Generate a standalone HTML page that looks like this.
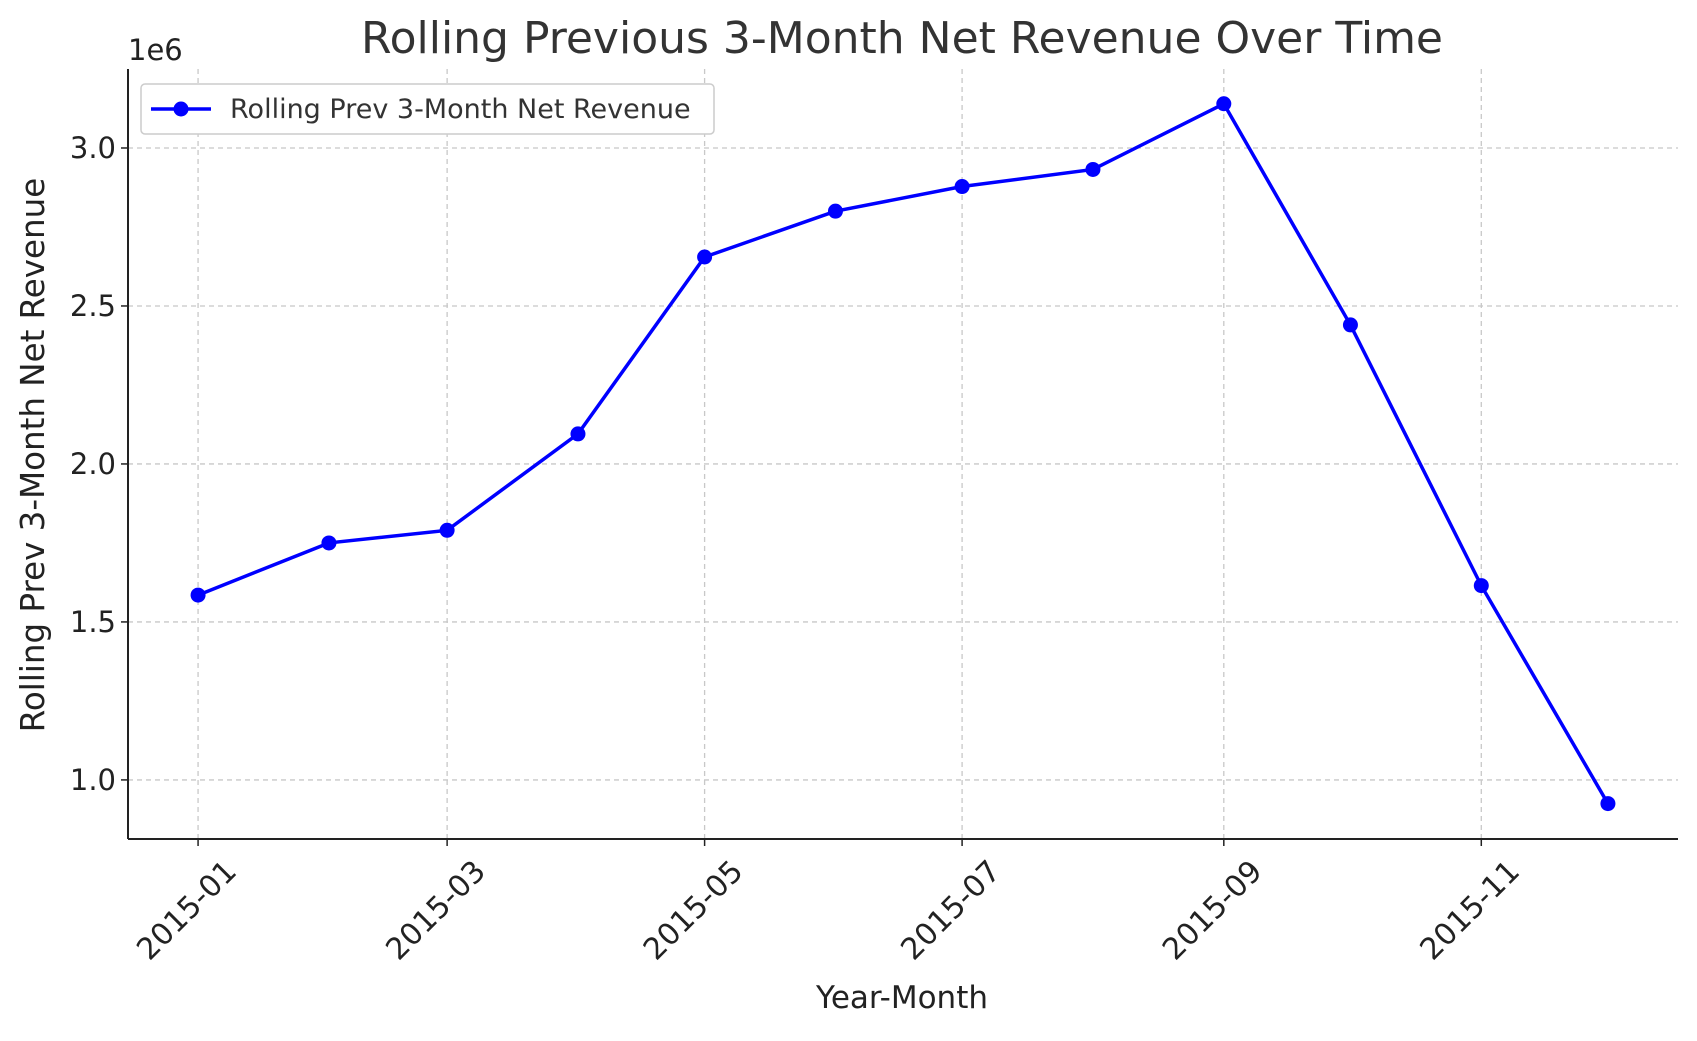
<!DOCTYPE html>
<html><head><meta charset="utf-8"><style>
body{margin:0;background:#fff}
svg text{font-family:"DejaVu Sans","Liberation Sans",sans-serif;fill:#222}
</style></head><body>
<svg width="1697" height="1036" viewBox="0 0 1697 1036" xmlns="http://www.w3.org/2000/svg" id="chart">
<text x="902" y="53" font-size="44" text-anchor="middle" style="fill:#333">Rolling Previous 3-Month Net Revenue Over Time</text>
<text x="128" y="60" font-size="29">1e6</text>
<text transform="translate(44,455) rotate(-90)" font-size="32.5" text-anchor="middle">Rolling Prev 3-Month Net Revenue</text>
<text x="902" y="1008" font-size="31" text-anchor="middle">Year-Month</text>
<g id="grid"></g><g id="ticks"></g><g id="series"></g>
<line x1="128" y1="839" x2="1678" y2="839" stroke="#222" stroke-width="2"/>
<line x1="128" y1="69" x2="128" y2="839" stroke="#222" stroke-width="2"/>
<g>
<rect x="141" y="84" width="573" height="50" rx="4" fill="#fff" stroke="#ccc" stroke-width="1.5"/>
<line x1="151" y1="109" x2="211" y2="109" stroke="#0000ff" stroke-width="3.5"/>
<circle cx="181" cy="109" r="7.5" fill="#0000ff"/>
<text x="230" y="118" font-size="27" style="fill:#333">Rolling Prev 3-Month Net Revenue</text>
</g>
</svg>
<script>
const months=["2015-01-01","2015-02-01","2015-03-01","2015-04-01","2015-05-01","2015-06-01","2015-07-01","2015-08-01","2015-09-01","2015-10-01","2015-11-01","2015-12-01"];
const values=[1.585,1.75,1.79,2.095,2.655,2.80,2.878,2.932,3.14,2.44,1.615,0.925];
const yTicks=[1.0,1.5,2.0,2.5,3.0];
const xTickLabels=["2015-01","2015-03","2015-05","2015-07","2015-09","2015-11"];
const NS="http://www.w3.org/2000/svg";
const L=128,R=1678,T=69,B=839;
const d0=Date.parse("2015-01-01");
const dayOf=s=>(Date.parse(s)-d0)/864e5;
const xMin=-16.6,xMax=350.6,yMin=0.813,yMax=3.25;
const X=s=>L+(dayOf(s)-xMin)/(xMax-xMin)*(R-L);
const Y=v=>B-(v-yMin)/(yMax-yMin)*(B-T);
function mk(t,a,p){const e=document.createElementNS(NS,t);for(const k in a)e.setAttribute(k,a[k]);p.appendChild(e);return e;}
const grid=document.getElementById('grid'),ticks=document.getElementById('ticks'),ser=document.getElementById('series');
yTicks.forEach(v=>{const y=Y(v);
const g=mk('line',{x1:L,x2:R,y1:y,y2:y,stroke:'#c8c8c8','stroke-dasharray':'5,4','stroke-width':1.3},grid);


mk('line',{x1:L-7,x2:L,y1:y,y2:y,stroke:'#222','stroke-width':1.5},ticks);
const t=mk('text',{x:L-12,y:y+10,'font-size':29,'text-anchor':'end'},ticks);t.textContent=v.toFixed(1);

});
xTickLabels.forEach(s=>{const x=X(s+"-01");
const g=mk('line',{x1:x,x2:x,y1:T,y2:B,stroke:'#c8c8c8','stroke-dasharray':'5,4','stroke-width':1.3},grid);


mk('line',{x1:x,x2:x,y1:B,y2:B+7,stroke:'#222','stroke-width':1.5},ticks);
const t=mk('text',{transform:`translate(${x+40},${B+34}) rotate(-45)`,'font-size':30,'text-anchor':'end'},ticks);t.textContent=s;

});
const pts=months.map((m,i)=>[X(m),Y(values[i])]);
const pl=mk('polyline',{points:pts.map(p=>p.join(',')).join(' '),fill:'none',stroke:'#0000ff','stroke-width':3.5},ser);


pts.forEach(p=>{const c=mk('circle',{cx:p[0],cy:p[1],r:7.5,fill:'#0000ff'},ser);

});
</script>
</body></html>
